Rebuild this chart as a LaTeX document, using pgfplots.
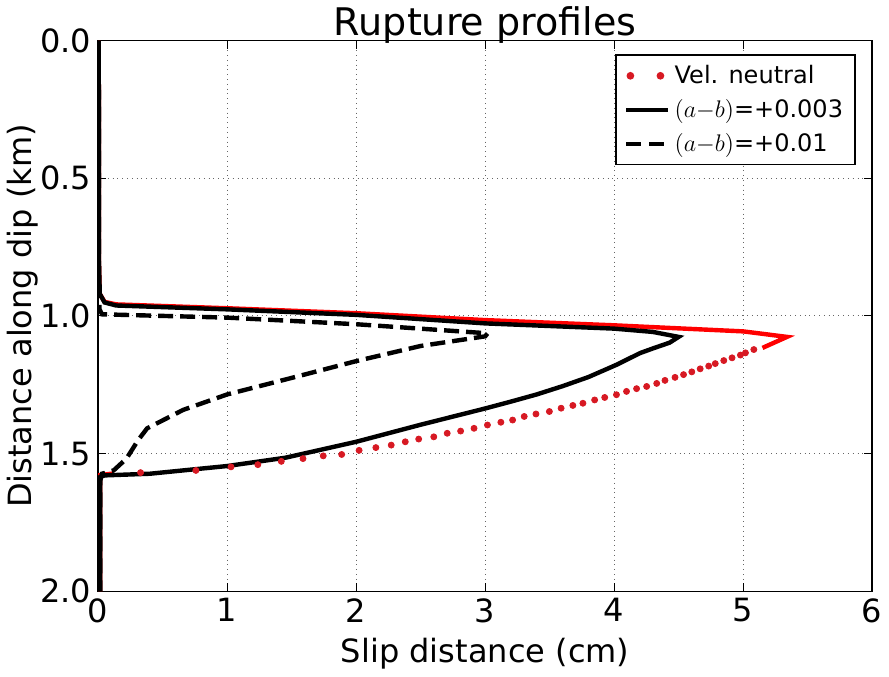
\documentclass[border=0pt]{standalone}
\usepackage{fontspec}
\setmainfont{DejaVu Sans}
\usepackage{pgfplots}
\pgfplotsset{compat=1.18}
\definecolor{dotred}{RGB}{215,25,35}
\begin{document}
\begin{tikzpicture}
\begin{axis}[
  scale only axis, width=386.5pt, height=275pt,
  xmin=0, xmax=6, ymin=0, ymax=2, y dir=reverse,
  xtick={0,1,2,3,4,5,6}, ytick={0,0.5,1,1.5,2},
  y tick label style={/pgf/number format/fixed,/pgf/number format/fixed zerofill,/pgf/number format/precision=1},
  /pgf/number format/assume math mode=true,
  tick label style={font=\fontsize{16}{19}\selectfont},
  label style={font=\fontsize{16}{19}\selectfont},
  title={Rupture profiles},
  title style={font=\fontsize{19}{22}\selectfont, at={(axis description cs:0.5,1)}, anchor=base, yshift=-3.5pt},
  xlabel={Slip distance (cm)},
  ylabel={Distance along dip (km)},
  xlabel style={at={(axis description cs:0.5,-0.13)}, anchor=base},
  ylabel style={at={(axis description cs:-0.0867,0.5)}, anchor=base},
  grid=major, major grid style={dotted, black!60, line width=0.5pt},
  tick align=inside, major tick length=4pt, tick style={black, line width=0.5pt},
  axis line style={line width=0.8pt},
  legend style={at={(axis description cs:0.979,0.975)}, anchor=north east,
    font=\fontsize{12}{14}\selectfont, draw=black, line width=0.8pt,
    inner xsep=4pt, inner ysep=3pt, row sep=2.5pt},
  legend cell align=left,
]
% red line parts (dense points drawn as line)
\addplot[red, line width=2.2pt, forget plot] coordinates {
(0.005,0) (0.006,0.80) (0.013,0.92) (0.05,0.949) (0.14,0.958) (1.0,0.972) (2.0,0.99) (3.0,1.015) (4.0,1.034) (5.0,1.056) (5.34,1.076) (5.15,1.116)};
\addplot[red, line width=2.2pt, forget plot] coordinates {
(0.12,1.572) (0.015,1.578) (0.015,2.0)};
% red dotted lower branch
\addplot[only marks, mark=*, mark size=1.5pt, color=dotred,
  legend image code/.code={\fill[dotred] (2pt,0pt) circle (1.5pt); \fill[dotred] (17pt,0pt) circle (1.5pt);}]
coordinates {
(5.083,1.122) (5.018,1.134) (4.979,1.142) (4.914,1.152) (4.850,1.162) (4.784,1.173)
(4.733,1.182) (4.667,1.192) (4.602,1.203) (4.538,1.213) (4.472,1.223) (4.394,1.234)
(4.330,1.245) (4.252,1.256) (4.174,1.264) (4.096,1.274) (4.018,1.286) (3.927,1.296)
(3.849,1.305) (3.758,1.317) (3.680,1.325) (3.589,1.335) (3.498,1.347) (3.394,1.356)
(3.303,1.365) (3.213,1.378) (3.122,1.386) (3.018,1.396) (2.914,1.408) (2.810,1.418)
(2.706,1.426) (2.602,1.439) (2.485,1.447) (2.381,1.457) (2.272,1.469) (2.153,1.478)
(2.023,1.488) (1.888,1.503) (1.745,1.508) (1.588,1.518) (1.420,1.528) (1.238,1.540)
(1.030,1.548) (0.758,1.561) (0.329,1.569)};
\addlegendentry{Vel. neutral}
% (a-b)=+0.003
\addplot[black, line width=2.2pt,
  legend image code/.code={\draw[black, line width=2.2pt] (0pt,0pt) -- (21pt,0pt);}]
coordinates {
(0.005,0) (0.006,0.80) (0.013,0.92) (0.05,0.951) (0.14,0.962) (1.0,0.976) (2.0,0.996)
(3.0,1.027) (4.0,1.046) (4.3,1.058) (4.5,1.076) (4.43,1.097) (4.3,1.118) (4.2,1.135)
(4.02,1.177) (3.8,1.222) (3.6,1.255) (3.4,1.285) (3.2,1.311) (3.0,1.336) (2.5,1.395)
(2.0,1.457) (1.45,1.515) (1.0,1.545) (0.4,1.573) (0.05,1.579) (0.015,1.585) (0.015,2.0)};
\addlegendentry{$(a{-}b)$=+0.003}
% (a-b)=+0.01
\addplot[black, line width=2.2pt, dash pattern=on 7.5pt off 3.5pt,
  legend image code/.code={\draw[black, line width=2.2pt, dash pattern=on 7.5pt off 4pt] (0pt,0pt) -- (21pt,0pt);}]
coordinates {
(0.005,0) (0.006,0.90) (0.01,0.975) (0.03,0.994) (1.0,1.006) (2.0,1.03) (3.02,1.063)
(3.0,1.074) (2.5,1.109) (2.0,1.164) (1.5,1.225) (1.0,1.285) (0.66,1.341) (0.38,1.408)
(0.31,1.451) (0.22,1.518) (0.12,1.561) (0.03,1.573) (0.015,1.6) (0.015,2.0)};
\addlegendentry{$(a{-}b)$=+0.01}
\end{axis}
\end{tikzpicture}
\end{document}
